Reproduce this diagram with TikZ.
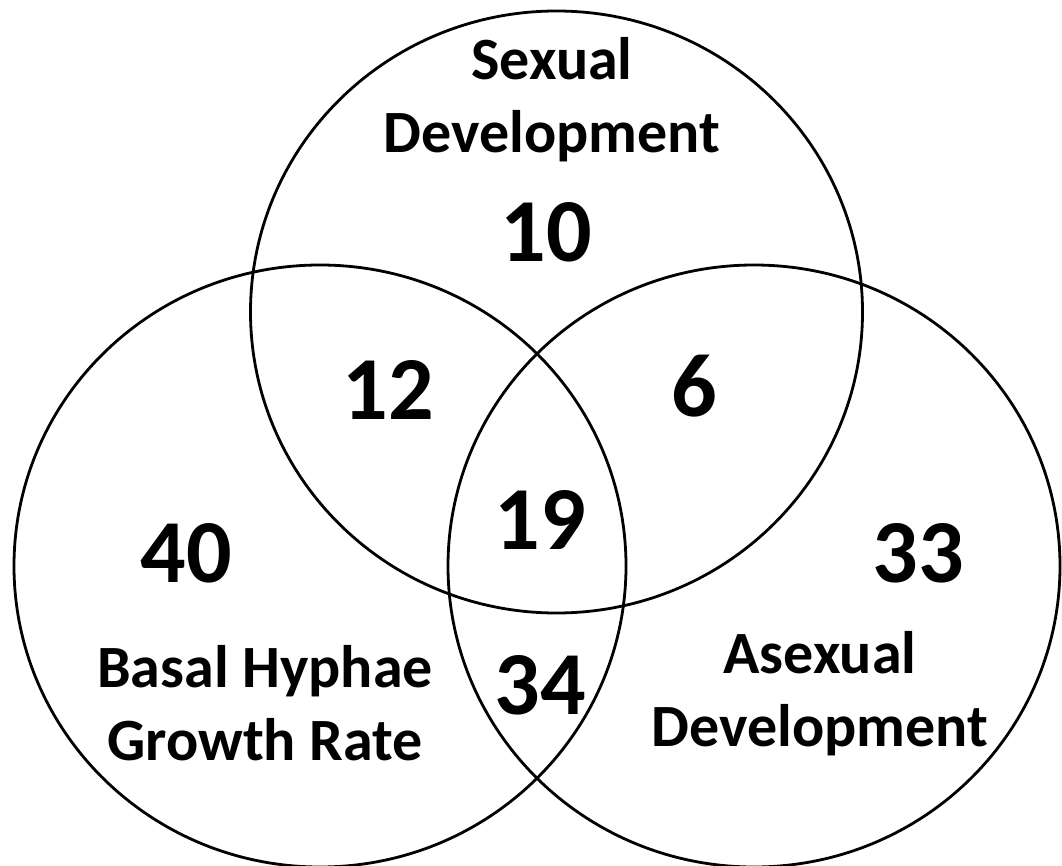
\documentclass[tikz,border=0pt]{standalone}
\usepackage{fontspec}
\setmainfont{Carlito}
\begin{document}
\begin{tikzpicture}[x=1pt,y=-1pt,
  ring/.style={draw=black,line width=2.8pt},
  num/.style={font=\fontsize{90}{94}\selectfont\bfseries,inner sep=0pt},
  lab/.style={font=\fontsize{60}{73}\selectfont\bfseries,align=center,inner sep=0pt}]
\useasboundingbox (0,0) rectangle (1062,866);
\draw[ring] (556.5,312) ellipse[x radius=306,y radius=301];
\draw[ring] (320,566) ellipse[x radius=306,y radius=301];
\draw[ring] (754,566) ellipse[x radius=306,y radius=301];
\node[lab] (ls) at (552,100) {Sexual\\Development};
\node[lab] (lb) at (265,703) {Basal Hyphae\\Growth Rate};
\node[lab] (la) at (820,694) {Asexual\\Development};
\node[num] (n10) at (546,232) {10};
\node[num] (n12) at (388,390) {12};
\node[num] (n6) at (694,386) {6};
\node[num] (n19) at (540,520) {19};
\node[num] (n40) at (186,553) {40};
\node[num] (n33) at (918,553) {33};
\node[num] (n34) at (540,685) {34};
\end{tikzpicture}
\end{document}
